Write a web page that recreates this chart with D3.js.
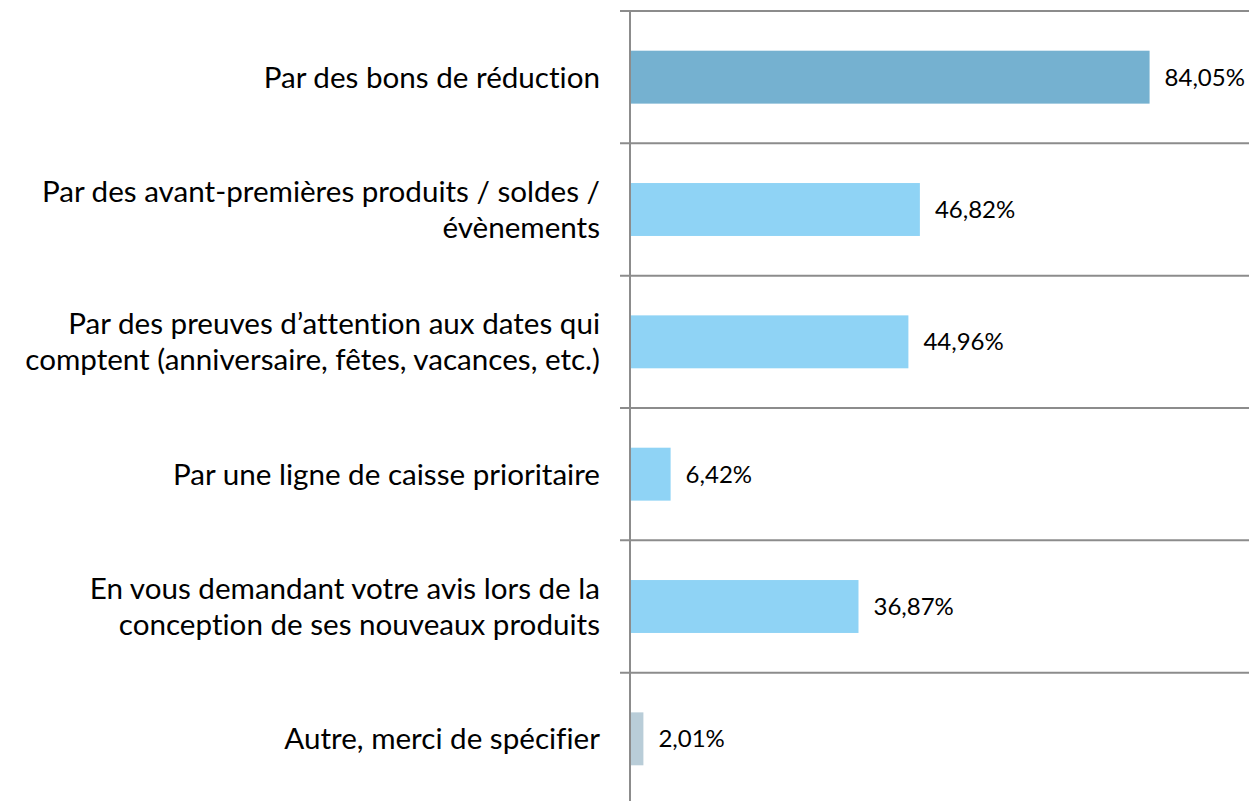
<!DOCTYPE html>
<html>
<head>
<meta charset="utf-8">
<script src="https://cdn.jsdelivr.net/npm/d3@7"></script>
<style>
  html, body { margin: 0; padding: 0; background: #fff; }
  svg { display: block; }
  text { font-variant-ligatures: none; font-feature-settings: "liga" 0; }
</style>
</head>
<body>
<svg id="chart" width="1249" height="801"></svg>
<script>
// categories (line breaks as in the original)
const categories = [
    "Par des bons de réduction",
    "Par des avant-premières produits / soldes /\névènements",
    "Par des preuves d’attention aux dates qui\ncomptent (anniversaire, fêtes, vacances, etc.)",
    "Par une ligne de caisse prioritaire",
    "En vous demandant votre avis lors de la\nconception de ses nouveaux produits",
    "Autre, merci de spécifier"
]
const values = [84.05, 46.82, 44.96, 6.42, 36.87, 2.01]
const barColors = ["#75b1d0", "#8fd3f5", "#8fd3f5", "#8fd3f5", "#8fd3f5", "#b9cdd8"]

const width = 1249
const height = 801
const margin = { top: 11, left: 631, right: 1 }

const svg = d3.select("#chart")

const x = d3.scaleLinear()
    .domain([0, 100])
    .range([margin.left, width - margin.right])

const y = d3.scaleBand()
    .domain(categories)
    .range([margin.top, margin.top + 794])
    .paddingInner(0.6)
    .paddingOuter(0.3)

const step = y.step()
const fmt = v => d3.format(".2f")(v).replace(".", ",") + "%"

// row separators
const seps = categories.map(c => y(c) - step * 0.3)
seps.push(seps[seps.length - 1] + step)
svg.append("g")
    .selectAll("line")
    .data(seps)
    .join("line")
    .attr("x1", 620)
    .attr("x2", width)
    .attr("y1", d => d)
    .attr("y2", d => d)
    .attr("stroke", "#8c8c8c")
    .attr("stroke-width", 2)

// bars
svg.append("g")
    .selectAll("rect")
    .data(values)
    .join("rect")
    .attr("x", x(0))
    .attr("y", (d, i) => y(categories[i]))
    .attr("width", d => x(d) - x(0))
    .attr("height", y.bandwidth())
    .attr("fill", (d, i) => barColors[i])

// vertical axis
svg.append("line")
    .attr("x1", 630).attr("x2", 630)
    .attr("y1", margin.top - 1).attr("y2", height)
    .attr("stroke", "#8c8c8c")
    .attr("stroke-width", 2)

// value labels
svg.append("g")
    .selectAll("text")
    .data(values)
    .join("text")
    .attr("x", d => x(d) + 15)
    .attr("y", (d, i) => y(categories[i]) + y.bandwidth() / 2)
    .attr("dy", "0.35em")
    .attr("font-family", "Lato, 'Open Sans', sans-serif")
    .attr("font-size", 24)
    .attr("fill", "#000")
    .text(d => fmt(d))

// category labels
const lineH = 36
const labels = svg.append("g")
    .selectAll("text")
    .data(categories)
    .join("text")
    .attr("text-anchor", "end")
    .attr("font-family", "Lato, 'Open Sans', sans-serif")
    .attr("font-size", 29.6)
    .attr("fill", "#000")

labels.each(function (c) {
    const lines = c.split("\n")
    const cy = y(c) + y.bandwidth() / 2
    const t = d3.select(this)
    lines.forEach((ln, j) => {
        t.append("tspan")
            .attr("x", 600)
            .attr("y", cy + (j - (lines.length - 1) / 2) * lineH)
            .attr("dy", "0.35em")
            .text(ln)
    })
})
</script>
</body>
</html>
